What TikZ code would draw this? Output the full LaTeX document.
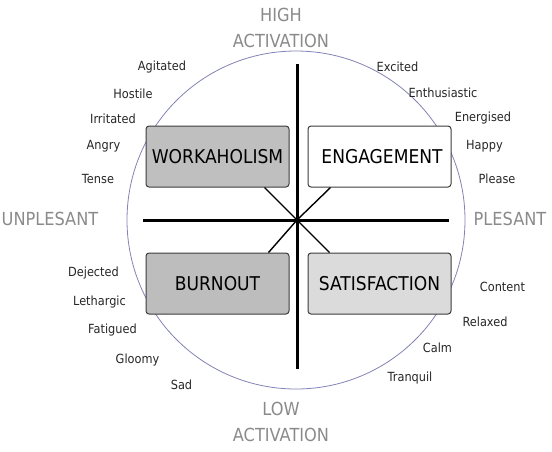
\documentclass[tikz,border=0pt]{standalone}
\usepackage{xcolor}
\usepackage{fontspec}
\setmainfont{DejaVu Sans}[FakeStretch=0.9]
\usepackage{tikz}
\usetikzlibrary{positioning}

\definecolor{ringblue}{HTML}{8282B4}
\definecolor{poletext}{HTML}{8A8A8A}
\definecolor{boxline}{HTML}{3C3C3C}

\begin{document}
\begin{tikzpicture}[
  x=1pt, y=-1pt,
  quad/.style={draw=boxline, line width=1pt, rounded corners=3pt, minimum width=143pt,
               minimum height=61pt, inner sep=0pt, font=\fontsize{19}{20}\selectfont},
  pole/.style={text=poletext, align=center, font=\fontsize{18}{26}\selectfont},
  mood/.style={text=black!85, inner sep=0pt, font=\fontsize{12.6}{14}\selectfont},
  axis/.style={line width=3pt},
  spoke/.style={line width=1.4pt}
]
  \useasboundingbox (0,0) rectangle (552,451);

  \draw[ringblue, line width=0.8pt] (296,220) circle[radius=169pt];

  \coordinate (c)  at (297,220);
  \coordinate (lf) at (143,220);
  \coordinate (rt) at (449,220);
  \coordinate (tp) at (297,64);
  \coordinate (bt) at (297,369);
  \draw[axis] (lf) -- (rt);
  \draw[axis] (tp) -- (bt);

  \node[quad, fill=black!25] (work)  at (217.5,156.5) {WORKAHOLISM};
  \node[quad, fill=white]    (eng)   [right=18pt of work] {\hspace*{5pt}ENGAGEMENT};
  \node[quad, fill=black!26] (burn)  [below=65pt of work] {BURNOUT};
  \node[quad, fill=black!14] (satis) [right=18pt of burn] {SATISFACTION};

  \draw[spoke] (c) -- ([xshift=-25pt]work.south east);
  \draw[spoke] (c) -- ([xshift=23pt]eng.south west);
  \draw[spoke] (c) -- ([xshift=-21pt]burn.north east);
  \draw[spoke] (c) -- ([xshift=22pt]satis.north west);

  \node[pole] (high)  at (281,28)  {HIGH\\ACTIVATION};
  \node[pole] (low)   at (281,422) {LOW\\ACTIVATION};
  \node[pole] (unpl)  at (50,219)  {UNPLESANT};
  \node[pole] (plea)  at (510,219) {PLESANT};

  % unpleasant side
  \node[mood] (agit)  at (162,67)  {Agitated};
  \node[mood] (host)  at (133,94)  {Hostile};
  \node[mood] (irri)  at (113,119) {Irritated};
  \node[mood] (angr)  at (103.5,146) {Angry};
  \node[mood] (tens)  at (98,179)  {Tense};
  \node[mood] (deje)  at (93.5,273) {Dejected};
  \node[mood] (leth)  at (99.5,302) {Lethargic};
  \node[mood] (fati)  at (112.5,330) {Fatigued};
  \node[mood] (gloo)  at (137.5,360) {Gloomy};
  \node[mood] (sad)   at (181.5,385) {Sad};

  % pleasant side
  \node[mood] (exci)  at (397.5,67) {Excited};
  \node[mood] (enth)  at (443,93)   {Enthusiastic};
  \node[mood] (ener)  at (483,118)  {Energised};
  \node[mood] (happ)  at (484.5,146) {Happy};
  \node[mood] (plse)  at (497,179)  {Please};
  \node[mood] (cont)  at (502.5,287) {Content};
  \node[mood] (rela)  at (485,322)  {Relaxed};
  \node[mood] (calm)  at (437.5,348) {Calm};
  \node[mood] (tran)  at (410,378)  {Tranquil};
\end{tikzpicture}
\end{document}
